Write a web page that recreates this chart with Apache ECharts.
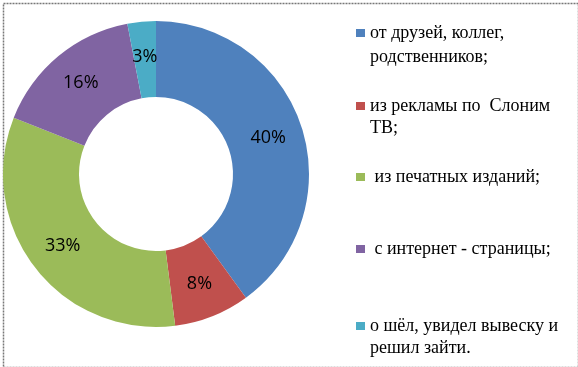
<!DOCTYPE html>
<html><head><meta charset="utf-8">
<script src="https://cdn.jsdelivr.net/npm/echarts@6/dist/echarts.min.js"></script>
<style>html,body{margin:0;padding:0;background:#fff}#c{width:578px;height:367px}</style>
</head><body><div id="c"></div>
<script>
var categories = [
  "от друзей, коллег,\nродственников;",
  "из рекламы по  Слоним\nТВ;",
  " из печатных изданий;",
  " с интернет - страницы;",
  "о шёл, увидел вывеску и\nрешил зайти."
];
var values = [40, 8, 33, 16, 3];
var colors = ["#4F81BD", "#C0504D", "#9BBB59", "#8064A2", "#4BACC6"];

var legendCenters = [33, 106, 177, 249, 326];
var secondLineCenters = [57, 128, null, null, 348];

var legends = categories.map(function (name, i) {
  return {
    data: [name],
    orient: 'vertical',
    left: 356,
    top: legendCenters[i] - 11,
    padding: 0,
    icon: 'rect',
    itemWidth: 9,
    itemHeight: 8,
    selectedMode: false,
    formatter: function (n) { return n.split('\n')[0]; },
    textStyle: { fontFamily: 'Liberation Serif', fontSize: 18, color: '#000', lineHeight: 22, padding: [0,0,0,0] }
  };
});

var graphics = [{
  type: 'rect', left: 1, top: 1,
  shape: { width: 575, height: 364 },
  style: { fill: 'none', stroke: '#777', lineWidth: 1.5, lineDash: [2, 1] },
  silent: true
}];
categories.forEach(function (name, i) {
  var parts = name.split('\n');
  if (parts.length > 1) {
    graphics.push({
      type: 'text', x: 370, y: secondLineCenters[i],
      style: { text: parts[1], fontFamily: 'Liberation Serif', fontSize: 18, fill: '#000', verticalAlign: 'middle', align: 'left' },
      silent: true
    });
  }
});

var chart = echarts.init(document.getElementById('c'));
chart.setOption({
  animation: false,
  color: colors,
  legend: legends,
  graphic: graphics,
  series: [{
    type: 'pie',
    center: [156, 174],
    radius: [77, 153],
    startAngle: 90,
    clockwise: true,
    avoidLabelOverlap: false,
    label: {
      show: true,
      position: 'inside',
      formatter: '{c}%',
      fontFamily: 'Open Sans',
      fontSize: 18,
      color: '#000'
    },
    labelLine: { show: false },
    itemStyle: { borderWidth: 0 },
    data: categories.map(function (n, i) { return { name: n, value: values[i] }; })
  }]
});
</script></body></html>
